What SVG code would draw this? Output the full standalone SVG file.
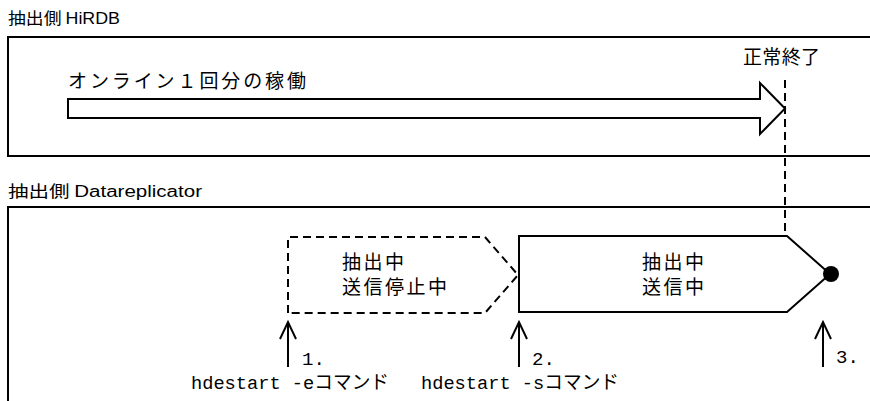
<svg xmlns="http://www.w3.org/2000/svg" width="870" height="401" viewBox="0 0 870 401">
<style>
.t{font-family:"Liberation Sans","Noto Sans CJK JP",sans-serif;fill:#000}
.j{font-family:"Noto Sans CJK JP","Liberation Sans",sans-serif;fill:#000}
.m{font-family:"Liberation Mono","Noto Sans CJK JP",monospace;fill:#000}
.ln{fill:none;stroke:#000;stroke-width:2}
.ds{fill:none;stroke:#000;stroke-width:2;stroke-dasharray:8 5}
</style>
<rect width="870" height="401" fill="#fff"/>
<g id="hirdb">
<path class="ln" d="M880,37 H8 V156 H880"/>
<text class="j" x="8" y="24" font-size="16" textLength="112" lengthAdjust="spacingAndGlyphs">抽出側 <tspan class="t">HiRDB</tspan></text>
</g>
<g id="datarep">
<path class="ln" d="M880,207 H8 V410"/>
<text class="j" x="8" y="197" font-size="16" textLength="194" lengthAdjust="spacingAndGlyphs">抽出側 <tspan class="t">Datareplicator</tspan></text>
</g>
<g id="online">
<polygon points="68,99 760,99 760,83 785,108.5 760,134 760,118 68,118" fill="#fff" stroke="#000" stroke-width="2"/>
<text class="j" x="68" y="88" font-size="19" textLength="238" lengthAdjust="spacing">オンライン１回分の稼働</text>
</g>
<g id="end">
<text class="j" x="743" y="64" font-size="19" textLength="77" lengthAdjust="spacing">正常終了</text>
</g>
<g id="stopped">
<polygon class="ds" points="288,313 288,237 485,237 518,275 485,313"/>
<text class="j" x="342" y="269" font-size="19" textLength="62" lengthAdjust="spacing">抽出中</text>
<text class="j" x="342" y="294" font-size="19" textLength="105" lengthAdjust="spacing">送信停止中</text>
</g>
<g id="sending">
<polygon class="ln" points="519,236 787,236 830,274 787,312 519,312" fill="#fff"/>
<text class="j" x="642" y="269" font-size="19" textLength="62" lengthAdjust="spacing">抽出中</text>
<text class="j" x="642" y="294" font-size="19" textLength="62" lengthAdjust="spacing">送信中</text>
<circle cx="831" cy="274" r="8" fill="#000"/>
</g>
<g id="connectors">
<line class="ds" x1="785" y1="80" x2="785" y2="236"/>
<path class="ln" d="M288,367 V322 M280,339 L288,322 L296,339"/>
<path class="ln" d="M519,367 V322 M511,339 L519,322 L527,339"/>
<path class="ln" d="M823,367 V322 M815,339 L823,322 L831,339"/>
</g>
<g id="labels">
<text class="m" x="302" y="365" font-size="19">1.</text>
<text class="m" x="532" y="365" font-size="19">2.</text>
<text class="m" x="836" y="363" font-size="19">3.</text>
<text class="m" x="191" y="389" font-size="19" textLength="198" lengthAdjust="spacingAndGlyphs">hdestart -eコマンド</text>
<text class="m" x="421" y="389" font-size="19" textLength="198" lengthAdjust="spacingAndGlyphs">hdestart -sコマンド</text>
</g>
</svg>
